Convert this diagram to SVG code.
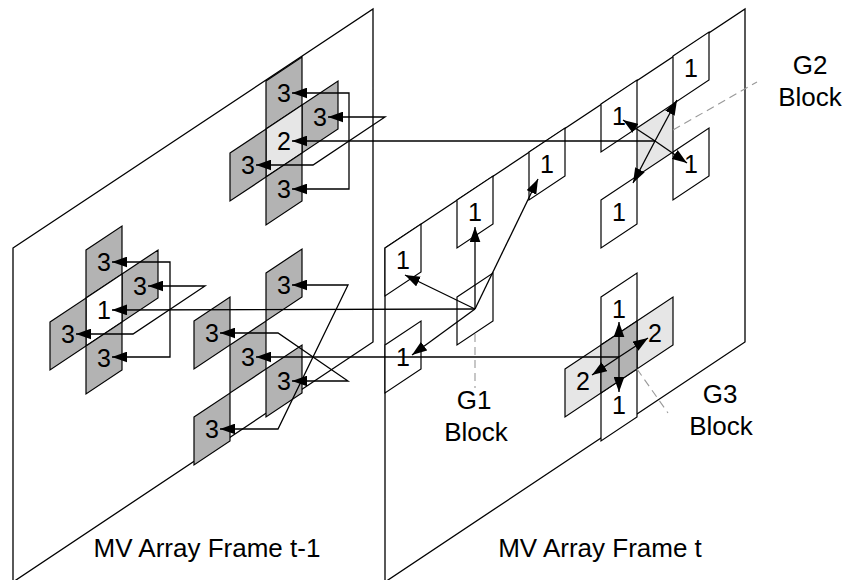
<svg xmlns="http://www.w3.org/2000/svg" xmlns:xlink="http://www.w3.org/1999/xlink" width="847" height="580" viewBox="0 0 847 580">
<style>
.frame{fill:#fff;stroke:#000;stroke-width:1.3}
.cell{stroke:#000;stroke-width:1.2}
.dark{fill:#b3b3b3}
.light{fill:#e6e6e6}
.white{fill:#fff}
.num{font-family:"Liberation Sans",Arial,sans-serif;font-size:25px;text-anchor:middle;fill:#000}
.lbl{font-family:"Liberation Sans",Arial,sans-serif;font-size:26px;text-anchor:middle;fill:#000}
.conn{fill:none;stroke:#000;stroke-width:1.3;marker-end:url(#ah)}
.both{marker-start:url(#ah)}
.dash{fill:none;stroke:#999;stroke-width:1.1;stroke-dasharray:8 5}
</style>
<defs>
<path id="cell" d="M0,0 L36,-24 L36,24 L0,48 Z"/>
<marker id="ah" viewBox="0 0 14 10" refX="14" refY="5" markerWidth="15" markerHeight="11" markerUnits="userSpaceOnUse" orient="auto-start-reverse">
<path d="M0,0 L14,5 L0,10 Z" fill="#000"/>
</marker>
</defs>

<g id="frame-t-1">
<polygon class="frame" points="13,248 373,9 373,342 13,582"/>
<text class="lbl" x="207" y="557">MV Array Frame t-1</text>
</g>
<g id="frame-t">
<polygon class="frame" points="385,248 745,9 745,342 385,582"/>
<text class="lbl" x="600" y="557">MV Array Frame t</text>
</g>

<!-- Top-left cluster in frame t-1 -->
<g id="tl-top"><use href="#cell" class="cell dark" x="266" y="81"/><text class="num" x="284" y="102">3</text></g>
<g id="tl-right"><use href="#cell" class="cell dark" x="302" y="105"/><text class="num" x="320" y="126">3</text></g>
<g id="tl-center"><use href="#cell" class="cell light" x="266" y="129"/><text class="num" x="284" y="150">2</text></g>
<g id="tl-left"><use href="#cell" class="cell dark" x="230" y="153"/><text class="num" x="248" y="174">3</text></g>
<g id="tl-bottom"><use href="#cell" class="cell dark" x="266" y="177"/><text class="num" x="284" y="198">3</text></g>

<!-- Left cluster in frame t-1 -->
<g id="l-top"><use href="#cell" class="cell dark" x="86" y="250"/><text class="num" x="104" y="271">3</text></g>
<g id="l-right"><use href="#cell" class="cell dark" x="122" y="274"/><text class="num" x="140" y="295">3</text></g>
<g id="l-center"><use href="#cell" class="cell white" x="86" y="298"/><text class="num" x="104" y="319">1</text></g>
<g id="l-left"><use href="#cell" class="cell dark" x="50" y="322"/><text class="num" x="68" y="343">3</text></g>
<g id="l-bottom"><use href="#cell" class="cell dark" x="86" y="346"/><text class="num" x="104" y="367">3</text></g>

<!-- Middle cluster in frame t-1 -->
<g id="m-a"><use href="#cell" class="cell dark" x="266" y="273"/><text class="num" x="284" y="294">3</text></g>
<g id="m-b"><use href="#cell" class="cell dark" x="194" y="321"/><text class="num" x="212" y="342">3</text></g>
<g id="m-c"><use href="#cell" class="cell dark" x="230" y="345"/><text class="num" x="248" y="366">3</text></g>
<g id="m-d"><use href="#cell" class="cell dark" x="266" y="369"/><text class="num" x="284" y="390">3</text></g>
<g id="m-e"><use href="#cell" class="cell dark" x="194" y="417"/><text class="num" x="212" y="438">3</text></g>

<!-- Frame t cells -->
<g id="t-a"><use href="#cell" class="cell white" x="385" y="248"/><text class="num" x="403" y="269">1</text></g>
<g id="t-b"><use href="#cell" class="cell white" x="457" y="200"/><text class="num" x="475" y="221">1</text></g>
<g id="t-c"><use href="#cell" class="cell white" x="529" y="152"/><text class="num" x="547" y="173">1</text></g>
<g id="t-f"><use href="#cell" class="cell white" x="385" y="345"/><text class="num" x="403" y="366">1</text></g>
<g id="g1-block"><use href="#cell" class="cell white" x="457" y="297"/></g>

<g id="t-d"><use href="#cell" class="cell white" x="601" y="104"/><text class="num" x="619" y="125">1</text></g>
<g id="t-ur"><use href="#cell" class="cell white" x="673" y="56"/><text class="num" x="691" y="77">1</text></g>
<g id="t-lr"><use href="#cell" class="cell white" x="673" y="152"/><text class="num" x="691" y="173">1</text></g>
<g id="t-ll"><use href="#cell" class="cell white" x="601" y="200"/><text class="num" x="619" y="221">1</text></g>
<g id="g2-block"><use href="#cell" class="cell light" x="637" y="128"/></g>

<g id="g3-top"><use href="#cell" class="cell white" x="601" y="297"/><text class="num" x="619" y="318">1</text></g>
<g id="g3-bottom"><use href="#cell" class="cell white" x="601" y="393"/><text class="num" x="619" y="414">1</text></g>
<g id="g3-left"><use href="#cell" class="cell light" x="565" y="369"/><text class="num" x="583" y="390">2</text></g>
<g id="g3-right"><use href="#cell" class="cell light" x="637" y="321"/><text class="num" x="655" y="342">2</text></g>
<g id="g3-block"><use href="#cell" class="cell dark" x="601" y="345"/></g>

<g id="labels">
<text class="lbl" x="474" y="409">G1</text>
<text class="lbl" x="476" y="441">Block</text>
<text class="lbl" x="810" y="74">G2</text>
<text class="lbl" x="810" y="106">Block</text>
<text class="lbl" x="720" y="403">G3</text>
<text class="lbl" x="721" y="435">Block</text>
</g>

<g id="connectors">
<line class="dash" x1="475" y1="334" x2="475" y2="388"/>
<line class="dash" x1="673" y1="130" x2="757" y2="82"/>
<line class="dash" x1="637" y1="369" x2="668" y2="413"/>

<polyline class="conn both" points="292,93 349,93 349,189 292,189"/>
<polyline class="conn both" points="328,117 385,117 313,165 256,165"/>
<polyline class="conn" points="655,141 292,141"/>

<polyline class="conn both" points="112,262 170,262 170,357 112,357"/>
<polyline class="conn both" points="148,286 205,286 133,334 76,334"/>
<polyline class="conn" points="475,309 112,310"/>

<polyline class="conn both" points="292,285 348,285 278,429 220,429"/>
<polyline class="conn both" points="220,333 278,333 348,381 292,381"/>
<polyline class="conn" points="619,357 256,357"/>

<line class="conn" x1="475" y1="309" x2="405" y2="275"/>
<line class="conn" x1="475" y1="309" x2="475" y2="227"/>
<line class="conn" x1="475" y1="309" x2="538" y2="179"/>
<line class="conn" x1="475" y1="309" x2="412" y2="355"/>

<line class="conn" x1="655" y1="141" x2="623" y2="120"/>
<line class="conn" x1="655" y1="141" x2="677" y2="100"/>
<line class="conn" x1="655" y1="141" x2="687" y2="163"/>
<line class="conn" x1="655" y1="141" x2="633" y2="183"/>

<line class="conn" x1="619" y1="357" x2="619" y2="322"/>
<line class="conn" x1="619" y1="357" x2="619" y2="392"/>
<line class="conn" x1="619" y1="357" x2="648" y2="338"/>
<line class="conn" x1="619" y1="357" x2="592" y2="375"/>
</g>
</svg>
